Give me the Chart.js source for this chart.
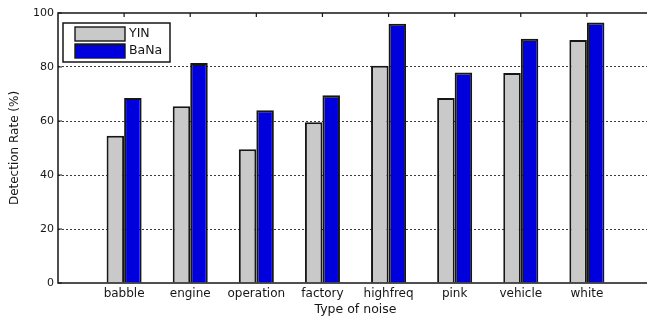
<!DOCTYPE html>
<html>
<head>
<meta charset="utf-8">
<script src="https://cdn.jsdelivr.net/npm/chart.js@4/dist/chart.umd.min.js"></script>
<style>
  html, body { margin: 0; padding: 0; background: #fff; overflow: hidden; }
  #wrap { width: 660px; height: 323px; }
</style>
</head>
<body>
<div id="wrap"><canvas id="c"></canvas></div>
<script>
// Noise types on the x axis
const CATEGORIES = ['babble', 'engine', 'operation', 'factory', 'highfreq', 'pink', 'vehicle', 'white'];
// Detection rate (%) per noise type
const YIN_RATE  = [54.5, 65.5, 49.5, 59.5, 80.5, 68.5, 77.8, 90.0];
const BANA_RATE = [68.5, 81.5, 64.0, 69.5, 96.0, 78.0, 90.5, 96.5];
// Y axis ticks
const Y_TICKS = [0, 20, 40, 60, 80, 100];

const INK = '#161616';
const toPoints = vals => vals.map((v, i) => ({ x: i + 1, y: v }));

// Box around the plot, inward tick marks and a framed legend in the top-left corner
const axesFrame = {
  id: 'axesFrame',
  afterDatasetsDraw(chart) {
    const { ctx, chartArea: a, scales } = chart;
    ctx.save();
    ctx.strokeStyle = INK;
    ctx.lineWidth = 1.5;
    ctx.strokeRect(a.left, a.top, a.right - a.left, a.bottom - a.top);
    ctx.lineWidth = 1.2;
    ctx.beginPath();
    Y_TICKS.forEach(v => {
      const y = scales.y.getPixelForValue(v);
      ctx.moveTo(a.left, y); ctx.lineTo(a.left + 4, y);
    });
    CATEGORIES.forEach((c, i) => {
      const x = scales.x.getPixelForValue(i + 1);
      ctx.moveTo(x, a.top); ctx.lineTo(x, a.top + 4);
    });
    ctx.stroke();

    // legend
    const lx = a.left + 5, ly = a.top + 10, lw = 107, lh = 39;
    ctx.fillStyle = '#fff';
    ctx.fillRect(lx, ly, lw, lh);
    ctx.lineWidth = 1.5;
    ctx.strokeRect(lx, ly, lw, lh);
    ctx.font = '12.5px "DejaVu Sans"';
    ctx.textBaseline = 'middle';
    chart.data.datasets.forEach((ds, i) => {
      const cy = ly + 10 + i * 17;
      ctx.fillStyle = ds.backgroundColor;
      ctx.fillRect(lx + 12, cy - 6, 50, 14);
      ctx.strokeStyle = INK;
      ctx.lineWidth = 1.4;
      ctx.strokeRect(lx + 12, cy - 6, 50, 14);
      ctx.fillStyle = INK;
      ctx.fillText(ds.label, lx + 66, cy + 1);
    });
    ctx.restore();
  }
};

Chart.defaults.font.family = '"DejaVu Sans", sans-serif';
Chart.defaults.color = INK;

new Chart(document.getElementById('c'), {
  type: 'bar',
  data: {
    datasets: [
      { label: 'YIN',  data: toPoints(YIN_RATE),  backgroundColor: '#c9c9c9', borderColor: INK, borderWidth: 2 },
      { label: 'BaNa', data: toPoints(BANA_RATE), backgroundColor: '#0000dc', borderColor: INK, borderWidth: 2 }
    ]
  },
  options: {
    responsive: true,
    maintainAspectRatio: false,
    animation: false,
    datasets: { bar: { categoryPercentage: 0.53, barPercentage: 1.0 } },
    layout: { padding: { top: 13, right: 7, left: 0, bottom: 0 } },
    plugins: { legend: { display: false }, tooltip: { enabled: false } },
    scales: {
      x: {
        type: 'linear',
        min: 0, max: 9,
        offset: false,
        grid: { display: false, drawTicks: false },
        border: { display: false },
        ticks: {
          stepSize: 1,
          autoSkip: false,
          maxRotation: 0,
          padding: 4,
          font: { size: 12 },
          callback: v => CATEGORIES[v - 1] ?? ''
        },
        title: { display: true, text: 'Type of noise', font: { size: 12.5 }, padding: { top: 0, bottom: 6 } },
        afterFit: s => { s.height = 40; }
      },
      y: {
        min: 0, max: 100,
        grid: {
          drawTicks: false,
          color: c => (c.tick && c.tick.value > 0 && c.tick.value < 100) ? '#3a3a3a' : 'rgba(0,0,0,0)',
          lineWidth: 1
        },
        border: { display: false, dash: [2, 2] },
        ticks: { stepSize: 20, padding: 4, font: { size: 11 } },
        title: { display: true, text: 'Detection Rate (%)', font: { size: 12 }, padding: { top: 8, bottom: 0 } },
        afterFit: s => { s.width = 58; }
      }
    }
  },
  plugins: [axesFrame]
});
</script>
</body>
</html>
